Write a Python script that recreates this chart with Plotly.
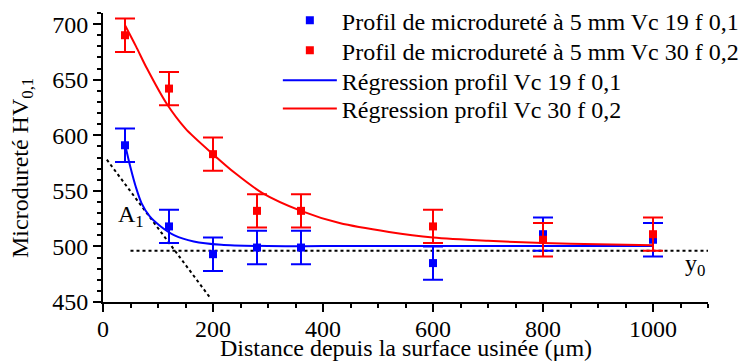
import plotly.graph_objects as go

# Measured microhardness profiles
x_pts = [40, 120, 200, 280, 360, 600, 800, 1000]
hv_vc19 = [591, 518, 493, 499, 499, 485, 511, 506]
err_vc19 = [15, 15, 15, 15, 15, 15, 15, 15]
hv_vc30 = [690, 642, 583, 532, 532, 518, 506, 511]
err_vc30 = [15, 15, 15, 15, 15, 15, 15, 15]

# Regression curves
reg19_x = [40, 50, 60, 70, 85, 105, 130, 165, 215, 300, 400, 600, 800, 1000]
reg19_y = [592, 571, 553, 539, 527, 518, 510, 504.5, 501.5, 500.3, 500.3, 500.3, 500.3, 500.3]
reg30_x = [40, 60, 80, 115, 150, 200, 240, 290, 360, 430, 520, 600, 700, 800, 900, 1000]
reg30_y = [699, 680, 660, 629, 606, 583, 566, 548, 532, 521, 513, 508, 505, 503, 502, 501]

# Construction lines
tangent_x = [7, 196]
tangent_y = [578, 453]
y0_x = [50, 1100]
y0_y = [496, 496]

names = [
    "Profil de microdureté à 5 mm Vc 19 f 0,1",
    "Profil de microdureté à 5 mm Vc 30 f 0,2",
    "Régression profil Vc 19 f 0,1",
    "Régression profil Vc 30 f 0,2",
]

BLUE = "#0000FF"
RED = "#FF0000"
FONT = "Liberation Serif"
FS = 24

fig = go.Figure()

fig.add_trace(go.Scatter(x=tangent_x, y=tangent_y, mode="lines", showlegend=False,
                         line=dict(color="black", width=2, dash="3px,3px"), hoverinfo="skip"))
fig.add_trace(go.Scatter(x=y0_x, y=y0_y, mode="lines", showlegend=False,
                         line=dict(color="black", width=2, dash="3px,3px"), hoverinfo="skip"))

fig.add_trace(go.Scatter(x=reg19_x, y=reg19_y, mode="lines", name=names[2], legend="legend3",
                         line=dict(color=BLUE, width=2, shape="spline", smoothing=0.8)))
fig.add_trace(go.Scatter(x=reg30_x, y=reg30_y, mode="lines", name=names[3], legend="legend4",
                         line=dict(color=RED, width=2, shape="spline", smoothing=0.8)))

fig.add_trace(go.Scatter(x=x_pts, y=hv_vc19, mode="markers", name=names[0], legend="legend",
                         marker=dict(symbol="square", size=8, color=BLUE),
                         error_y=dict(type="data", array=err_vc19, color=BLUE, thickness=2, width=10)))
fig.add_trace(go.Scatter(x=x_pts, y=hv_vc30, mode="markers", name=names[1], legend="legend2",
                         marker=dict(symbol="square", size=8, color=RED),
                         error_y=dict(type="data", array=err_vc30, color=RED, thickness=2, width=10)))

fig.add_annotation(x=24, y=527, xref="x", yref="y", text="A<sub>1</sub>", showarrow=False,
                   xanchor="left", yanchor="middle", font=dict(family=FONT, size=FS, color="black"))
fig.add_annotation(x=1054, y=483, xref="x", yref="y", text="y<sub>0</sub>", showarrow=False,
                   xanchor="left", yanchor="middle", font=dict(family=FONT, size=FS, color="black"))

# axis titles
fig.add_annotation(x=0.5, y=-0.158, xref="paper", yref="paper",
                   text="Distance depuis la surface usinée (μm)", showarrow=False,
                   xanchor="center", yanchor="middle", font=dict(family=FONT, size=FS, color="black"))
fig.add_annotation(x=-0.133, y=0.462, xref="paper", yref="paper", textangle=-90,
                   text="Microdureté HV<sub>0,1</sub>", showarrow=False,
                   xanchor="center", yanchor="middle", font=dict(family=FONT, size=FS, color="black"))

axis_common = dict(showline=True, linecolor="black", linewidth=2, ticks="outside",
                   ticklen=8, tickwidth=2, tickcolor="black", showgrid=False, zeroline=False,
                   automargin=False,
                   tickfont=dict(family=FONT, size=FS, color="black"),
                   minor=dict(ticks="outside", ticklen=4, tickwidth=2, tickcolor="black", showgrid=False))

fig.update_xaxes(range=[0, 1100], dtick=200, tick0=0, ticklabelstandoff=-4, **axis_common)
fig.update_yaxes(range=[450, 710], dtick=50, tick0=450, **axis_common)

leg_common = dict(x=0.289, xanchor="left", yanchor="middle", bgcolor="rgba(0,0,0,0)",
                  borderwidth=0, itemwidth=54, font=dict(family=FONT, size=FS, color="black"))

fig.update_layout(
    width=740, height=356,
    margin=dict(l=95, r=40, t=5, b=62, autoexpand=False),
    paper_bgcolor="white", plot_bgcolor="white",
    font=dict(family=FONT, size=FS, color="black"),
    showlegend=True,
    legend=dict(y=0.9734, **leg_common),
    legend2=dict(y=0.8696, **leg_common),
    legend3=dict(y=0.7657, **leg_common),
    legend4=dict(y=0.6678, **leg_common),
)

fig.write_html("out.html")
